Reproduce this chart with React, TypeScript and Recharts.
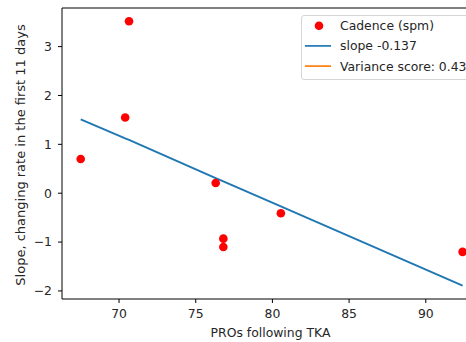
import React from 'react';
import { ScatterChart, Scatter, XAxis, YAxis, ReferenceLine, Legend, Label } from 'recharts';

const xValues = [67.5, 70.4, 70.65, 76.3, 76.8, 76.8, 80.55, 92.4];
const yValues = [0.7, 1.55, 3.52, 0.21, -0.93, -1.1, -0.41, -1.2];
const predValues = [1.51, 1.12, 1.09, 0.31, 0.24, 0.24, -0.27, -1.89];
const xTicks = [70, 75, 80, 85, 90];
const yTicks = [-2, -1, 0, 1, 2, 3];
const xDomain = [66.28, 93.6];
const yDomain = [-2.165, 3.79];
const legendLabels = ['Cadence (spm)', 'slope -0.137', 'Variance score: 0.43'];
const legendColors = ['#ff0000', '#1f77b4', '#ff7f0e'];

const points = xValues.map((x, i) => ({ x, y: yValues[i] }));
const fitLine = xValues.map((x, i) => ({ x, y: predValues[i] }));

const FONT = 'DejaVu Sans';
const FS = 12.4;
const TXT = '#262626';

const Dot = (props: any) => {
  const { cx, cy } = props;
  if (cx == null || cy == null) return null;
  return <circle cx={cx} cy={cy} r={4.3} fill="#ff0000" />;
};

const LegendBox = () => (
  <div
    style={{
      width: 175,
      height: 65,
      boxSizing: 'border-box',
      border: '1px solid #d6d6d6',
      borderRadius: 3,
      background: 'rgba(255,255,255,0.85)',
    }}
  >
    <svg width={173} height={63} style={{ display: 'block' }}>
      {legendLabels.map((lab, i) => {
        const cy = 9.7 + i * 20.2;
        return (
          <g key={lab}>
            {i === 0 ? (
              <circle cx={17} cy={cy} r={4.3} fill={legendColors[i]} />
            ) : (
              <line x1={3} x2={29} y1={cy} y2={cy} stroke={legendColors[i]} strokeWidth={1.7} />
            )}
            <text x={38} y={cy + 4.5} fontFamily={FONT} fontSize={FS} fill={TXT}>
              {lab}
            </text>
          </g>
        );
      })}
    </svg>
  </div>
);

export default function App() {
  return (
    <div style={{ position: 'absolute', left: 0, top: 0, width: 466, height: 342, overflow: 'hidden', background: '#fff' }}>
      <ScatterChart width={500} height={342} margin={{ top: 8, right: 19, bottom: 0, left: 0 }}>
        <XAxis
          type="number"
          dataKey="x"
          domain={xDomain}
          ticks={xTicks}
          allowDataOverflow
          height={43}
          tickSize={4}
          tickMargin={6}
          axisLine={{ stroke: '#000', strokeWidth: 1 }}
          tickLine={{ stroke: '#000', strokeWidth: 1 }}
          tick={{ fontFamily: FONT, fontSize: FS, fill: TXT }}
        >
          <Label
            content={(p: any) => {
              const vb = p.viewBox;
              return (
                <text x={vb.x + vb.width / 2 - 1} y={vb.y + 38} textAnchor="middle" fontFamily={FONT} fontSize={FS} fill={TXT}>
                  PROs following TKA
                </text>
              );
            }}
          />
        </XAxis>
        <YAxis
          type="number"
          dataKey="y"
          domain={yDomain}
          ticks={yTicks}
          allowDataOverflow
          width={62}
          tickSize={4}
          tickMargin={6}
          axisLine={{ stroke: '#000', strokeWidth: 1 }}
          tickLine={{ stroke: '#000', strokeWidth: 1 }}
          tick={{ fontFamily: FONT, fontSize: FS, fill: TXT }}
          tickFormatter={(v: number) => (v < 0 ? '\u2212' + Math.abs(v) : String(v))}
        >
          <Label
            content={(p: any) => {
              const vb = p.viewBox;
              const x = vb.x + 24.5;
              const y = vb.y + vb.height / 2 + 1.5;
              return (
                <text x={x} y={y} transform={`rotate(-90, ${x}, ${y})`} textAnchor="middle" fontFamily={FONT} fontSize={13} fill={TXT}>
                  Slope, changing rate in the first 11 days
                </text>
              );
            }}
          />
        </YAxis>
        <ReferenceLine y={yDomain[1]} stroke="#000" strokeWidth={1} />
        <ReferenceLine x={xDomain[1]} stroke="#000" strokeWidth={1} />
        <Scatter
          data={fitLine}
          line={{ stroke: '#1f77b4', strokeWidth: 1.9 }}
          shape={() => null}
          isAnimationActive={false}
        />
        <Scatter data={points} fill="#ff0000" shape={Dot} isAnimationActive={false} />
        <Legend
          layout="vertical"
          verticalAlign="middle"
          align="center"
          content={() => <LegendBox />}
          wrapperStyle={{ left: 301, top: 15, width: 175, height: 65 }}
        />
      </ScatterChart>
    </div>
  );
}
